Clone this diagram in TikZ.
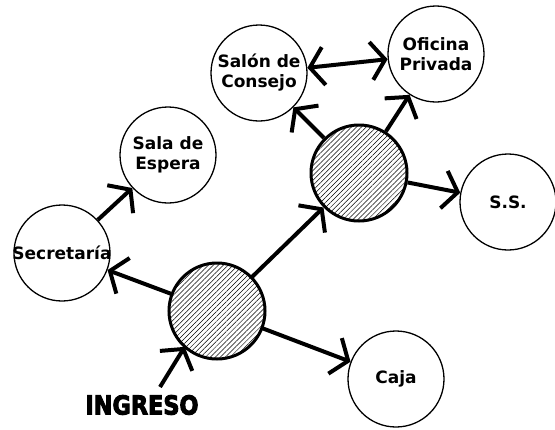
\documentclass[tikz,border=0pt]{standalone}
\usepackage{fontspec}
\setmainfont{DejaVu Sans}
\newfontfamily\heavyfont{DejaVu Sans}[BoldFeatures={FakeBold=4}]
\usetikzlibrary{arrows.meta,patterns.meta}

\begin{document}
\begin{tikzpicture}[x=1pt, y=-1pt,
    room/.style={circle, draw=black, line width=1.3pt, minimum size=96pt, inner sep=0pt},
    hub/.style={circle, draw=black, line width=3pt, minimum size=96pt, inner sep=0pt,
      pattern={Lines[angle=45, distance=3.5pt, line width=0.5pt]}},
    lbl/.style={font=\bfseries\fontsize{17}{20}\selectfont, align=center, inner sep=0pt},
    link/.style={line width=4pt, -{Straight Barb[length=14pt, width=38pt]}},
  ]

  \fill[white] (0,0) rectangle (555,429);
  \useasboundingbox (0,0) rectangle (555,429);

  %% ---- the two hallways (hatched) ----
  \node[hub] (hubA) at (217,311) {};
  \node[hub] (hubB) at (359,173) {};

  %% ---- the rooms ----
  \node[room] (secr)  at (62,253)  {};
  \node[room] (sala)  at (168,155) {};
  \node[room] (salon) at (259,73)  {};
  \node[room] (ofic)  at (436,54)  {};
  \node[room] (ss)    at (508,202) {};
  \node[room] (caja)  at (396,379) {};

  \node[lbl] (secrT)  at (secr)  {Secretaría};
  \node[lbl] (salaT)  at (sala)  {Sala de\\Espera};
  \node[lbl] (salonT) at (salon) {Salón de\\Consejo};
  \node[lbl] (oficT)  at (ofic)  {Oficina\\Privada};
  \node[lbl] (ssT)    at (ss)    {S.S.};
  \node[lbl] (cajaT)  at (caja)  {Caja};

  \node[inner sep=0pt] (ingreso) at (142,405)
    {\scalebox{0.86}[1]{\heavyfont\bfseries\fontsize{26}{28}\selectfont INGRESO}};
  \coordinate (ingTop) at (160,387);

  %% ---- circulation ----
  \draw[link] (ingTop) -- (hubA.228);
  \draw[link] (hubA) -- (secr);
  \draw[link] (secr) -- (sala);
  \draw[link] (hubA) -- (hubB);
  \draw[link] (hubA) -- (caja);
  \draw[link] (hubB) -- (salon);
  \draw[link] (hubB) -- (ofic);
  \draw[link] (hubB) -- (ss);
  \draw[link, {Straight Barb[length=14pt, width=38pt]}-{Straight Barb[length=14pt, width=38pt]}]
    (salon) -- (ofic);

\end{tikzpicture}
\end{document}
